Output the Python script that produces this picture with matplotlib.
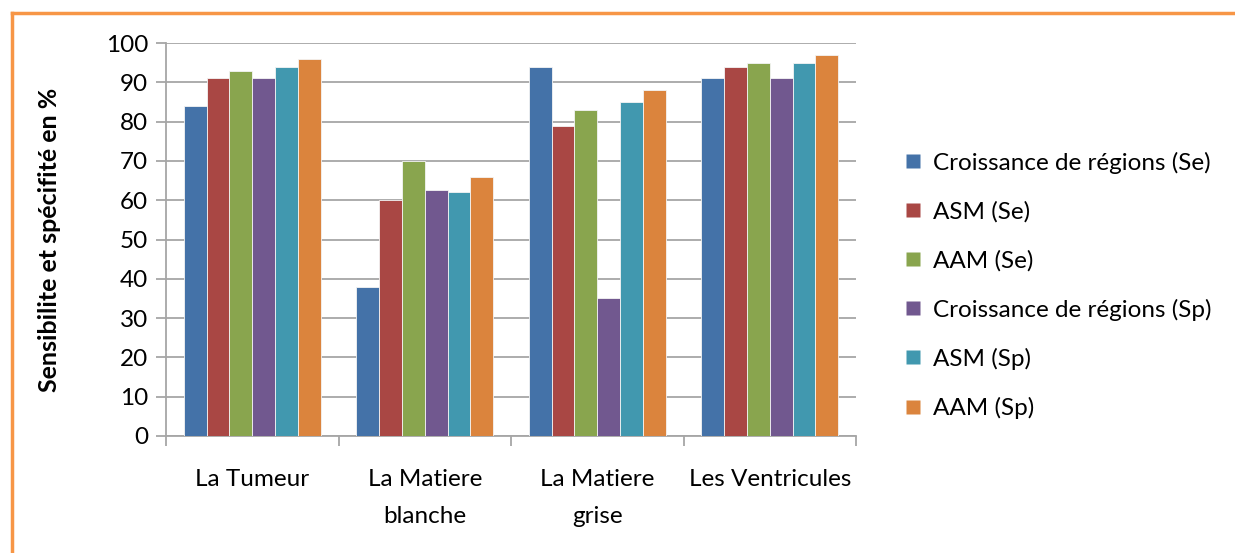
import numpy as np
import matplotlib.pyplot as plt
from matplotlib.lines import Line2D

plt.rcParams['font.family'] = ['Lato', 'DejaVu Sans']

# Données : sensibilité (Se) et spécificité (Sp) par région
regions = ['La Tumeur', 'La Matiere\nblanche', 'La Matiere\ngrise', 'Les Ventricules']
series = ['Croissance de régions (Se)', 'ASM (Se)', 'AAM (Se)',
          'Croissance de régions (Sp)', 'ASM (Sp)', 'AAM (Sp)']
croissance_se = [84, 38, 94, 91]
asm_se = [91, 60, 79, 94]
aam_se = [93, 70, 83, 95]
croissance_sp = [91, 62.5, 35, 91]
asm_sp = [94, 62, 85, 95]
aam_sp = [96, 66, 88, 97]
valeurs = [croissance_se, asm_se, aam_se, croissance_sp, asm_sp, aam_sp]

couleurs = ['#4472A8', '#A94744', '#89A54E', '#71588F', '#4198AF', '#DB843D']

fig = plt.figure(figsize=(12.35, 5.53), dpi=100)
ax = fig.add_axes([166/1235, 1-436/553, 690/1235, 393/553])

x = np.arange(len(regions))
n = len(series)
largeur = 0.795 / n
for i, (nom, v) in enumerate(zip(series, valeurs)):
    ax.bar(x - 0.795/2 + (i + 0.5)*largeur, v, largeur, color=couleurs[i],
           edgecolor='#f4f4f4', linewidth=0.6, label=nom, zorder=3)

ax.set_xlim(-0.5, len(regions) - 0.5)
ax.set_ylim(0, 100)
ax.set_yticks(np.arange(0, 101, 10))
ax.yaxis.grid(True, color='#a6a6a6', linewidth=1.3, zorder=0)
ax.set_xticks(x)
ax.set_xticklabels(regions, fontsize=17.5, linespacing=1.9)
ax.set_xticks(np.arange(-0.5, len(regions)), minor=True)
ax.tick_params(axis='x', which='major', length=0, pad=24)
ax.tick_params(axis='x', which='minor', length=7, color='#a6a6a6', width=1.3)
ax.tick_params(axis='y', length=7, color='#a6a6a6', width=1.3, labelsize=17.5, pad=6)
for s in ['top', 'right']:
    ax.spines[s].set_visible(False)
for s in ['left', 'bottom']:
    ax.spines[s].set_color('#a6a6a6')
    ax.spines[s].set_linewidth(1.3)

ax.set_ylabel('Sensibilite et spécifité en %', fontsize=18, fontweight='bold')
ax.yaxis.set_label_coords(-0.152, 0.5)

poignees = [Line2D([], [], marker='s', linestyle='none', markersize=10,
                   markerfacecolor=c, markeredgecolor='none') for c in couleurs]
fig.legend(poignees, series, loc='upper left', bbox_to_anchor=(895/1235, 1-142/553),
           frameon=False, fontsize=17.5, handlelength=0.7, handletextpad=0.45,
           labelspacing=1.12, borderaxespad=0)

# Cadre orange (bords gauche et haut)
fig.add_artist(Line2D([12/1235, 12/1235], [0, 1-13/553], transform=fig.transFigure,
                      color='#F79646', linewidth=2.5))
fig.add_artist(Line2D([12/1235, 1], [1-13/553, 1-13/553], transform=fig.transFigure,
                      color='#F79646', linewidth=2.5))

plt.savefig('out.png', dpi=100)
